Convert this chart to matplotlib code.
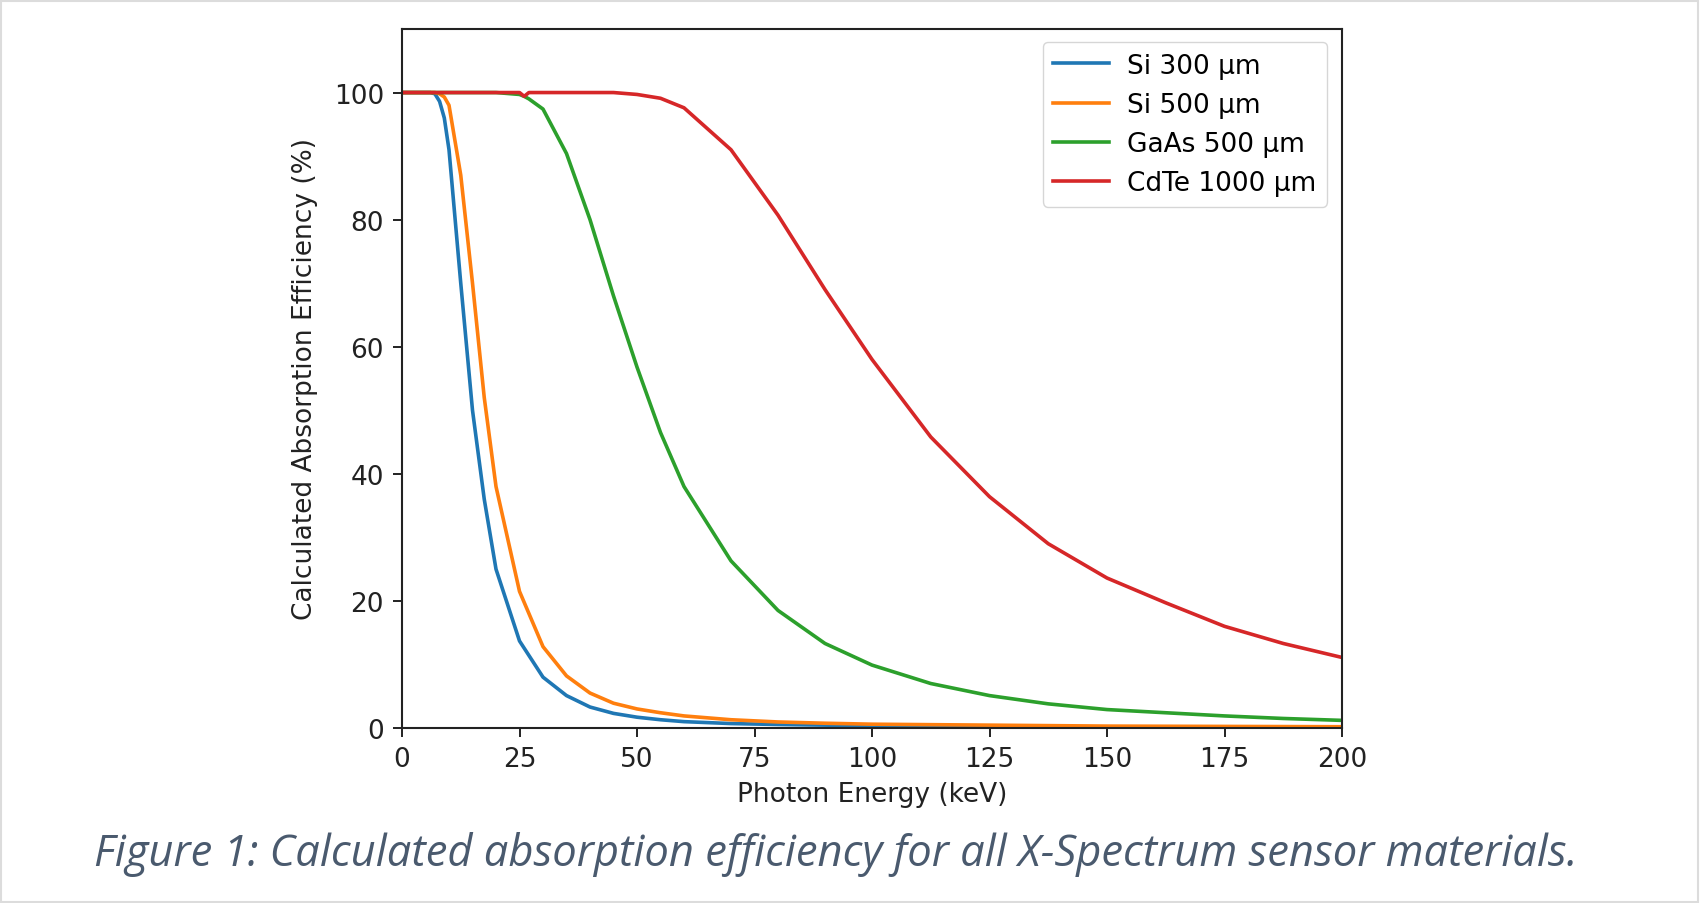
import matplotlib
matplotlib.use("Agg")
import matplotlib.pyplot as plt
from matplotlib.patches import Rectangle

# ---- data ----
si_energy = [0, 5, 6, 7, 8, 9, 10, 12.5, 15, 17.5, 20, 25, 30, 35, 40, 45, 50,
             55, 60, 70, 80, 90, 100, 125, 150, 175, 200]
si300 = [100, 100, 100, 99.8, 98.6, 96, 91, 70, 50, 36, 25, 13.7, 8, 5.1, 3.3,
         2.3, 1.7, 1.3, 1.0, 0.7, 0.55, 0.45, 0.35, 0.25, 0.18, 0.13, 0.1]
si500 = [100, 100, 100, 100, 99.8, 99.3, 98, 87, 70, 52, 38, 21.5, 12.8, 8.2,
         5.5, 3.9, 3.0, 2.4, 1.9, 1.3, 0.95, 0.75, 0.6, 0.45, 0.3, 0.25, 0.2]

hv_energy = [0, 5, 10, 15, 20, 25, 26, 27, 30, 35, 40, 45, 50, 55, 60, 70, 80,
             90, 100, 112.5, 125, 137.5, 150, 162.5, 175, 187.5, 200]
gaas500 = [100, 100, 100, 100, 100, 99.7, 99.4, 99.0, 97.4, 90.4, 80, 68, 56.8,
           46.5, 38, 26.3, 18.5, 13.3, 9.9, 7.0, 5.1, 3.8, 2.9, 2.4, 1.9, 1.5, 1.2]
cdte1000 = [100, 100, 100, 100, 100, 100, 99.4, 100, 100, 100, 100, 100, 99.7,
            99.1, 97.6, 91, 80.7, 69, 58, 45.8, 36.4, 29, 23.6, 19.7, 16, 13.3, 11.1]

labels = ["Si 300 µm", "Si 500 µm", "GaAs 500 µm", "CdTe 1000 µm"]
colors = ["#1f77b4", "#ff7f0e", "#2ca02c", "#d62728"]
x_ticks = [0, 25, 50, 75, 100, 125, 150, 175, 200]
y_ticks = [0, 20, 40, 60, 80, 100]
caption = "Figure 1: Calculated absorption efficiency for all X-Spectrum sensor materials."

W, H = 1700, 904
fig = plt.figure(figsize=(W / 100, H / 100), dpi=100)
fig.patch.set_facecolor("white")

ax = fig.add_axes([402 / W, 1 - 729 / H, 940 / W, 699 / H])
series = [(si_energy, si300), (si_energy, si500), (hv_energy, gaas500), (hv_energy, cdte1000)]
for (e, v), lab, c in zip(series, labels, colors):
    ax.plot(e, v, color=c, lw=2.6, label=lab)

ax.set_xlim(0, 200)
ax.set_ylim(0, 110)
ax.set_xticks(x_ticks)
ax.set_yticks(y_ticks)
fs = 19
ax.tick_params(labelsize=fs, length=6.5, width=1.4, pad=6.5, colors="#222222")
for s in ax.spines.values():
    s.set_linewidth(1.5)
    s.set_color("#222222")

ax.set_xlabel("Photon Energy (keV)", fontsize=fs, color="#222222")
ax.set_ylabel("Calculated Absorption Efficiency (%)", fontsize=fs, color="#222222")
ax.xaxis.set_label_coords(0.5, -0.076)
ax.yaxis.set_label_coords(-0.089, 0.5)

leg = ax.legend(loc="upper right", bbox_to_anchor=(0.984, 0.9814), borderaxespad=0,
                fontsize=fs, handlelength=2.1, handletextpad=0.7, labelspacing=0.5,
                borderpad=0.4, fancybox=True, framealpha=0.8, edgecolor="#cccccc")

# caption
txt = fig.text(94 / W, 1 - 855 / H, caption, fontsize=24, style="italic",
               family="Open Sans", color="#4a5a6e", ha="left", va="center")
fig.canvas.draw()
r = fig.canvas.get_renderer()
w = txt.get_window_extent(r).width
txt.set_fontsize(24 * 1486 / w)

# light grey frame around the figure
fig.patches.append(Rectangle((1 / W, 1 / H), 1 - 3 / W, 1 - 3 / H, transform=fig.transFigure,
                             fill=False, edgecolor="#dcdcdc", lw=1.5))

fig.savefig("out.png", dpi=100)
